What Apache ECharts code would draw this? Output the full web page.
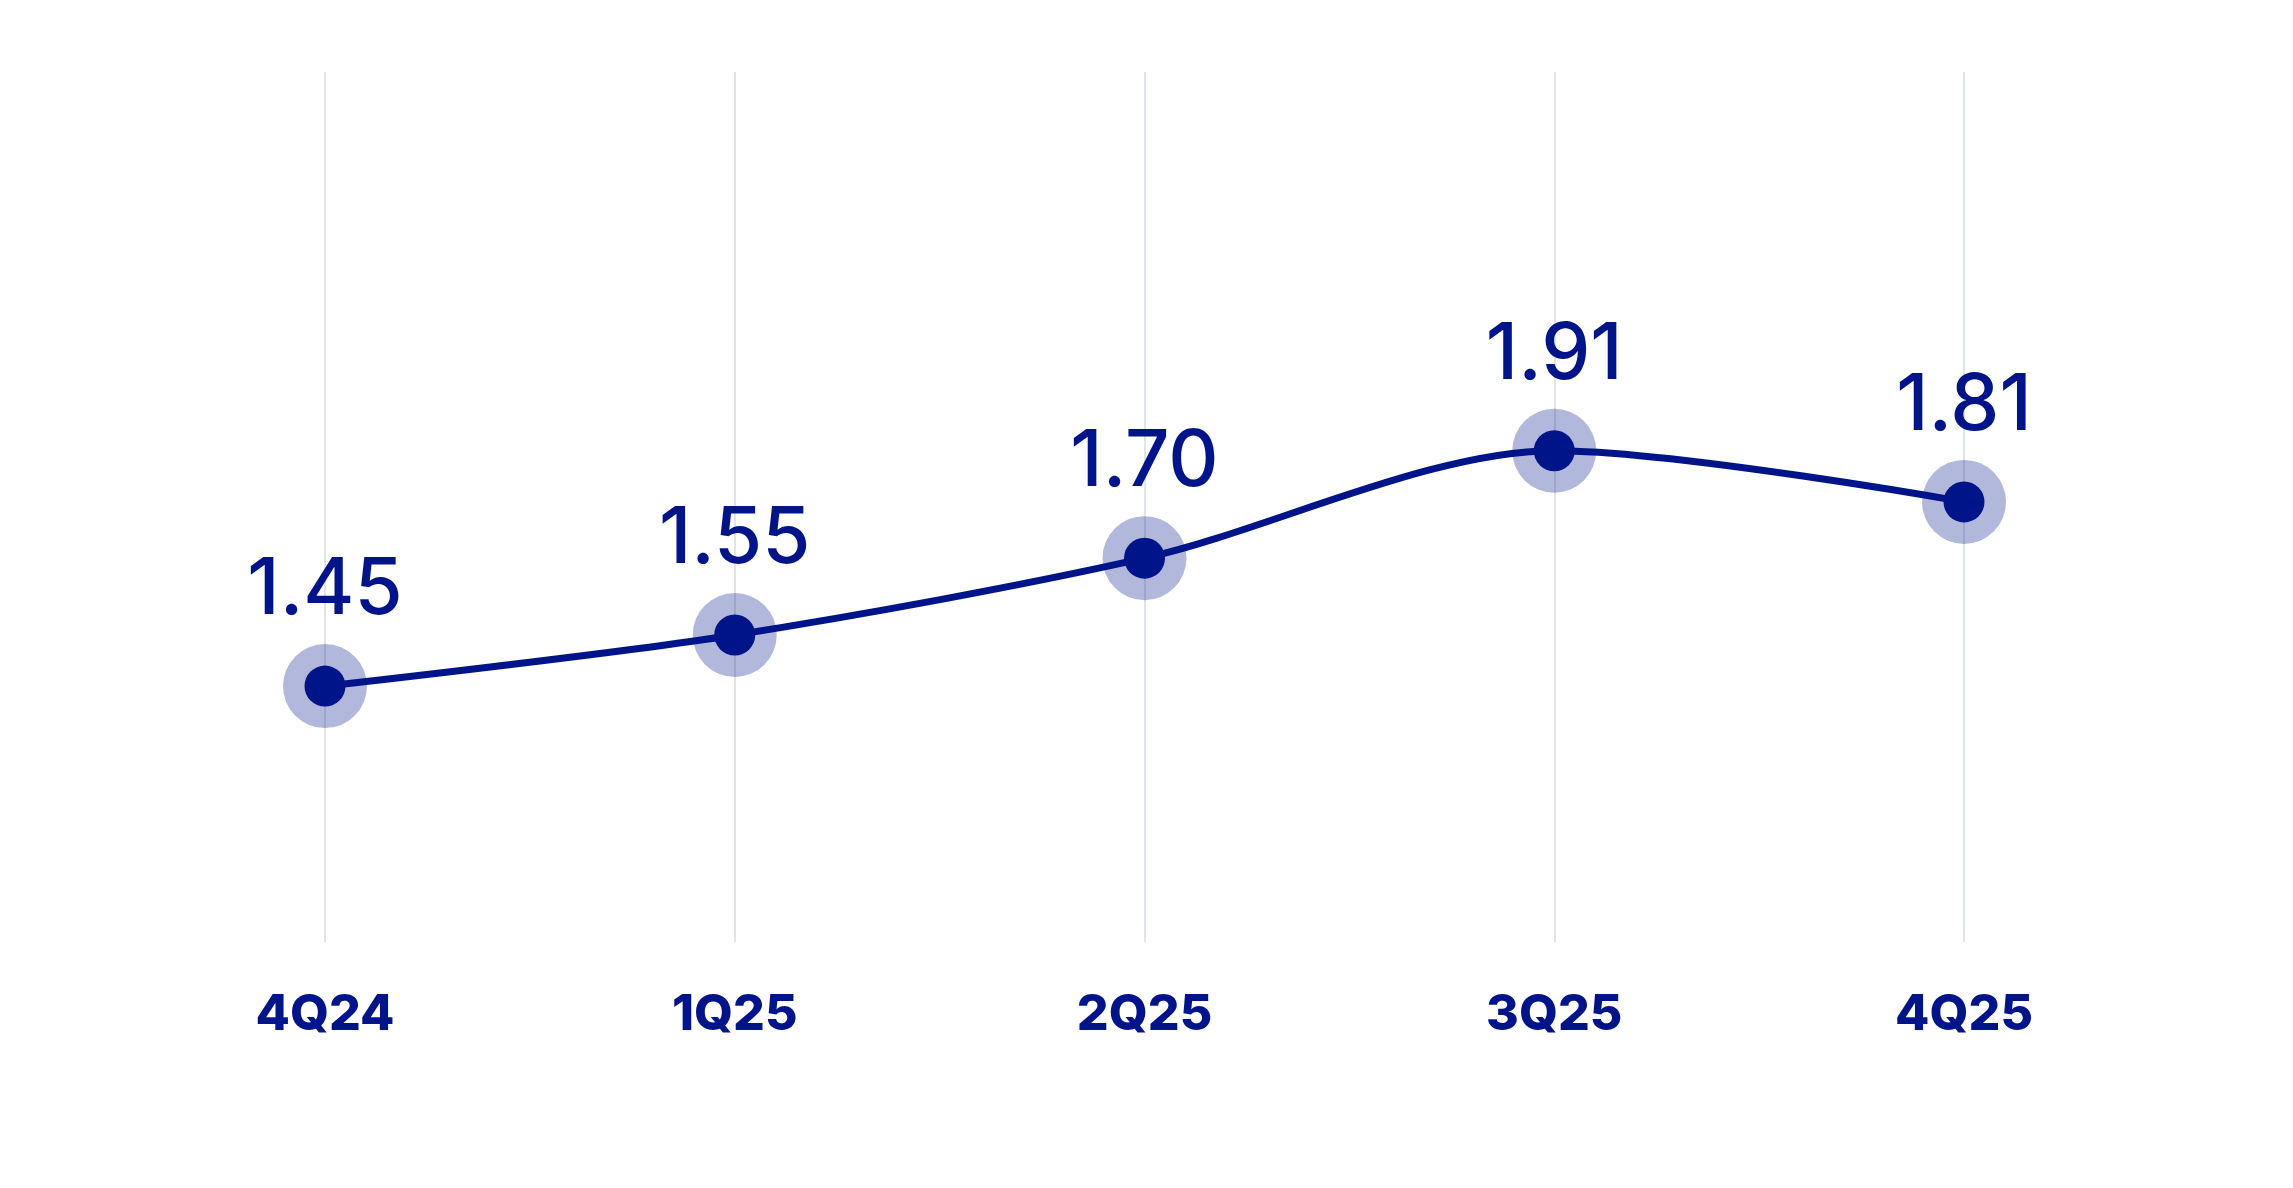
<!DOCTYPE html>
<html>
<head>
<meta charset="utf-8">
<script src="https://cdn.jsdelivr.net/npm/echarts@6/dist/echarts.min.js"></script>
<style>
html,body{margin:0;padding:0;background:#ffffff;}
#chart{width:2293px;height:1188px;}
</style>
</head>
<body>
<div id="chart"></div>
<script>
const categories = ['4Q24', '1Q25', '2Q25', '3Q25', '4Q25'];
const values = [1.45, 1.55, 1.70, 1.91, 1.81];

const NAVY = '#001489';
const HALO = 'rgba(0,20,137,0.30)';

const chart = echarts.init(document.getElementById('chart'), null, {renderer: 'canvas'});
chart.setOption({
  backgroundColor: '#ffffff',
  animation: false,
  grid: {left: 325, right: 329, top: 72, bottom: 246},
  xAxis: {
    type: 'category',
    data: categories,
    boundaryGap: false,
    axisLine: {show: false},
    axisTick: {show: false},
    splitLine: {show: true, lineStyle: {color: '#e1e4e9', width: 2}},
    axisLabel: {
      color: NAVY,
      fontFamily: 'Inter, sans-serif',
      fontWeight: 800,
      fontSize: 50,
      margin: 48
    }
  },
  yAxis: {
    type: 'value',
    min: 0.95,
    max: 2.65,
    show: false,
    splitLine: {show: false}
  },
  series: [
    {
      type: 'scatter',
      data: values,
      symbol: 'circle',
      symbolSize: 84,
      itemStyle: {color: HALO, opacity: 1},
      silent: true,
      z: 1
    },
    {
      type: 'line',
      data: values,
      smooth: 0.3,
      symbol: 'circle',
      symbolSize: 41,
      showAllSymbol: true,
      lineStyle: {color: NAVY, width: 7},
      itemStyle: {color: NAVY, borderWidth: 0},
      label: {
        show: true,
        position: 'top',
        distance: 36,
        color: NAVY,
        fontFamily: 'Inter, sans-serif',
        fontWeight: 500,
        fontSize: 78,
        formatter: p => p.value.toFixed(2)
      },
      z: 2
    }
  ]
});
</script>
</body>
</html>
